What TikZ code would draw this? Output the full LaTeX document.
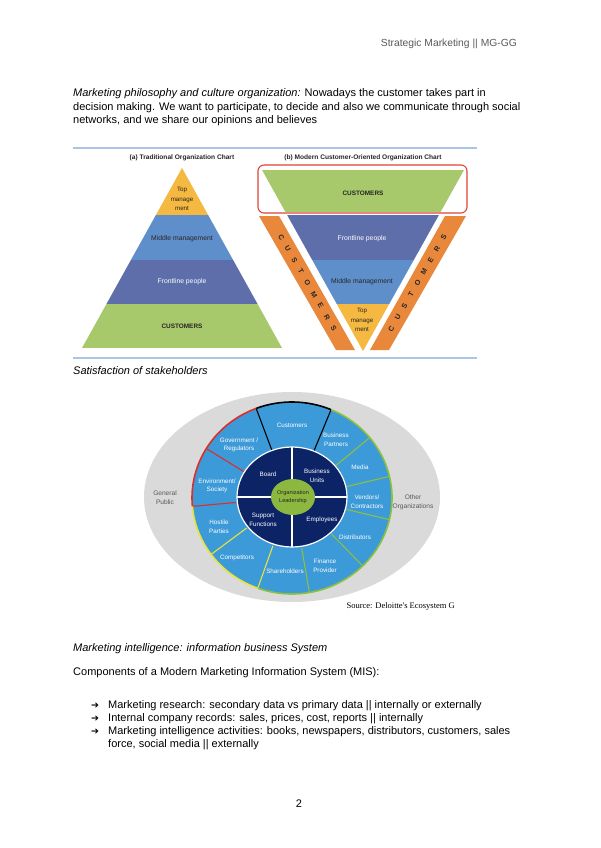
\documentclass[tikz,border=0pt]{standalone}
\usepackage{fontspec}
\setmainfont{Liberation Sans}
\newfontfamily\srcfont{Liberation Serif}
\newfontfamily\arrowfont{DejaVu Sans}
\usepackage{tikz}
\usetikzlibrary{calc}

\definecolor{ruleBlue}{HTML}{A9C5E8}
\definecolor{topYellow}{HTML}{F5B840}
\definecolor{midBlue}{HTML}{5F8FCB}
\definecolor{frontSlate}{HTML}{5E6EAA}
\definecolor{custGreen}{HTML}{A7C96B}
\definecolor{stripeOrange}{HTML}{E9883B}
\definecolor{boxRed}{HTML}{E0443A}
\definecolor{haloGray}{HTML}{DADADA}
\definecolor{ringBlue}{HTML}{3C9AD8}
\definecolor{coreNavy}{HTML}{0C2366}
\definecolor{leadGreen}{HTML}{8DB83F}
\definecolor{rimRed}{HTML}{D8302A}
\definecolor{rimYellow}{HTML}{E6E43C}
\definecolor{rimGreen}{HTML}{8CC03F}
\definecolor{headGray}{HTML}{595959}
\definecolor{inkDark}{HTML}{262626}

\newcommand{\fsz}[2]{\fontsize{#1}{#2}\selectfont}

\begin{document}
\begin{tikzpicture}[x=1pt, y=-1pt,
  bodyText/.style={anchor=base west, inner sep=0pt, font=\fsz{11}{13}},
  chartTitle/.style={inner sep=0pt, text=inkDark, font=\bfseries\fsz{6.6}{8}},
  bandLabel/.style={inner sep=0pt, align=center, text=inkDark, font=\fsz{6.8}{9.5}},
  stripeLetter/.style={inner sep=0pt, text=inkDark, font=\bfseries\fsz{7.2}{8}},
  ringLabel/.style={inner sep=0pt, align=center, text=white, font=\fsz{6.3}{8.7}},
  sideLabel/.style={inner sep=0pt, align=center, text=headGray, font=\fsz{6.6}{9}},
  bulletMark/.style={anchor=base west, inner sep=0pt, font=\arrowfont\fsz{9.5}{11}},
  divider/.style={line width=1.1pt},
  rim/.style={line width=1.6pt}
]
  \fill[white] (0,0) rectangle (600,848);
  \useasboundingbox (0,0) rectangle (600,848);

  % header and first paragraph
  \node[bodyText, anchor=base east, text=headGray, font=\fsz{10.3}{12}] (header) at (517,47)
    {Strategic Marketing || MG-GG};
  \node[bodyText] (paraA) at (73,97)
    {\textit{Marketing philosophy and culture organization:} Nowadays the customer takes part in};
  \node[bodyText] (paraB) at (73,110.5)
    {decision making. We want to participate, to decide and also we communicate through social};
  \node[bodyText] (paraC) at (73,124)
    {networks, and we share our opinions and believes};

  % organization charts
  \draw[ruleBlue, line width=1.4pt] (73,148) -- (477,148);
  \draw[ruleBlue, line width=1.4pt] (73,358) -- (477,358);
  \node[chartTitle] (titleA) at (182,158) {(a) Traditional Organization Chart};
  \node[chartTitle] (titleB) at (363,158) {(b) Modern Customer-Oriented Organization Chart};

  \begin{scope}
    \clip (182,168) -- (282,348) -- (82,348) -- cycle;
    \fill[topYellow] (80,160) rectangle (285,215);
    \fill[midBlue] (80,215) rectangle (285,260);
    \fill[frontSlate] (80,260) rectangle (285,304);
    \fill[custGreen] (80,304) rectangle (285,348);
  \end{scope}
  \node[bandLabel, font=\fsz{6.2}{9.5}] (topL) at (182,199) {Top\\manage\\ment};
  \node[bandLabel] (midL) at (182,239) {Middle management};
  \node[bandLabel, text=white] (frontL) at (182,282) {Frontline people};
  \node[bandLabel, font=\bfseries\fsz{6.4}{8}] (custL) at (182,326) {CUSTOMERS};

  \begin{scope}
    \clip (262,170) -- (464,170) -- (363,351) -- cycle;
    \fill[custGreen] (255,165) rectangle (470,212);
    \fill[frontSlate] (255,214.5) rectangle (470,260);
    \fill[midBlue] (255,260) rectangle (470,304);
    \fill[topYellow] (255,304) rectangle (470,352);
  \end{scope}
  \draw[boxRed, line width=1.1pt, rounded corners=6pt] (258,165) rectangle (467,213);
  \node[bandLabel, font=\bfseries\fsz{6.4}{8}] (custR) at (363,193) {CUSTOMERS};
  \node[bandLabel, text=white] (frontR) at (362,239) {Frontline people};
  \node[bandLabel] (midR) at (362,282) {Middle management};
  \node[bandLabel, font=\fsz{6.2}{9.5}] (topR) at (362,320) {Top\\manage\\ment};

  \fill[stripeOrange] (259,216) -- (279,216) -- (355,350) -- (336,350) -- cycle;
  \fill[stripeOrange] (445,216) -- (466,216) -- (389,350) -- (370,350) -- cycle;
  \coordinate (lsTop) at (269,216);
  \coordinate (lsBot) at (346,350);
  \coordinate (rsBot) at (379,350);
  \coordinate (rsTop) at (456,216);
  \foreach \ch [count=\i] in {C,U,S,T,O,M,E,R,S} {
    \node[stripeLetter, rotate=-60] (lsL\i) at ($(lsTop)!{0.16+(\i-1)*0.085}!(lsBot)$) {\ch};
    \node[stripeLetter, rotate=60] (rsL\i) at ($(rsBot)!{0.16+(\i-1)*0.085}!(rsTop)$) {\ch};
  }

  % stakeholder wheel
  \node[bodyText] (satis) at (73,374) {\textit{Satisfaction of stakeholders}};

  \begin{scope}[shift={(292,498)}, y=1pt]
    \fill[haloGray] (0,1) ellipse [x radius=148, y radius=105];
    \fill[ringBlue] (0,0) ellipse [x radius=100, y radius=96];
    \foreach \a in {67,111} \draw[divider, black] (\a:56 and 51) -- (\a:100 and 96);
    \foreach \a in {39,13,-13,-45,-80} \draw[divider, rimGreen] (\a:56 and 51) -- (\a:100 and 96);
    \foreach \a in {-110,-144} \draw[divider, rimYellow] (\a:56 and 51) -- (\a:100 and 96);
    \foreach \a in {-175,149} \draw[divider, rimRed] (\a:56 and 51) -- (\a:100 and 96);
    \draw[rim, black] (67:100 and 96) arc[start angle=67, end angle=111, x radius=100, y radius=96];
    \draw[rim, rimRed] (111:100 and 96) arc[start angle=111, end angle=185, x radius=100, y radius=96];
    \draw[rim, rimYellow] (185:100 and 96) arc[start angle=185, end angle=250, x radius=100, y radius=96];
    \draw[rim, rimGreen] (250:100 and 96) arc[start angle=250, end angle=427, x radius=100, y radius=96];
    \filldraw[fill=coreNavy, draw=white, line width=1.2pt] (0,1) ellipse [x radius=55, y radius=50];
    \draw[white, line width=1.1pt] (0,51) -- (0,-49);
    \draw[white, line width=1.1pt] (-55,1) -- (55,1);
    \fill[leadGreen] (1,1) ellipse [x radius=22, y radius=18];
  \end{scope}

  \node[ringLabel] (customers) at (292,425) {Customers};
  \node[ringLabel] (partners) at (336,440) {Business\\Partners};
  \node[ringLabel] (media) at (360,467) {Media};
  \node[ringLabel] (vendors) at (367,502) {Vendors/\\Contractors};
  \node[ringLabel] (distrib) at (355,537) {Distributors};
  \node[ringLabel] (finance) at (325,566) {Finance\\Provider};
  \node[ringLabel] (sharehold) at (285,571) {Shareholders};
  \node[ringLabel] (competit) at (237,558) {Competitors};
  \node[ringLabel] (hostile) at (219,527) {Hostile\\Parties};
  \node[ringLabel] (environ) at (217,486) {Environment/\\Society};
  \node[ringLabel] (govern) at (239,445) {Government /\\Regulators};
  \node[ringLabel] (board) at (268,474) {Board};
  \node[ringLabel] (units) at (317,476) {Business\\Units};
  \node[ringLabel] (support) at (263,520) {Support\\Functions};
  \node[ringLabel] (employ) at (322,520) {Employees};
  \node[ringLabel, text=inkDark, font=\fsz{5.6}{7.8}] (leader) at (293,497) {Organization\\Leadership};
  \node[sideLabel] (public) at (165,498) {General\\Public};
  \node[sideLabel] (otherOrg) at (413,502) {Other\\Organizations};
  \node[inner sep=0pt, anchor=east, font=\srcfont\fsz{8.5}{10}] (source) at (455,606)
    {Source: Deloitte's Ecosystem G};

  % information system text
  \node[bodyText] (intel) at (73,651) {\textit{Marketing intelligence: information business System}};
  \node[bodyText] (compo) at (73,675) {Components of a Modern Marketing Information System (MIS):};
  \node[bulletMark] (arrA) at (91,708) {➔};
  \node[bodyText] (itemA) at (108,708)
    {Marketing research: secondary data vs primary data || internally or externally};
  \node[bulletMark] (arrB) at (91,721) {➔};
  \node[bodyText] (itemB) at (108,721)
    {Internal company records: sales, prices, cost, reports || internally};
  \node[bulletMark] (arrC) at (91,734) {➔};
  \node[bodyText] (itemC) at (108,734)
    {Marketing intelligence activities: books, newspapers, distributors, customers, sales};
  \node[bodyText] (itemD) at (108,747) {force, social media || externally};

  \node[bodyText, anchor=base] (pageNo) at (299,807) {2};
\end{tikzpicture}
\end{document}
